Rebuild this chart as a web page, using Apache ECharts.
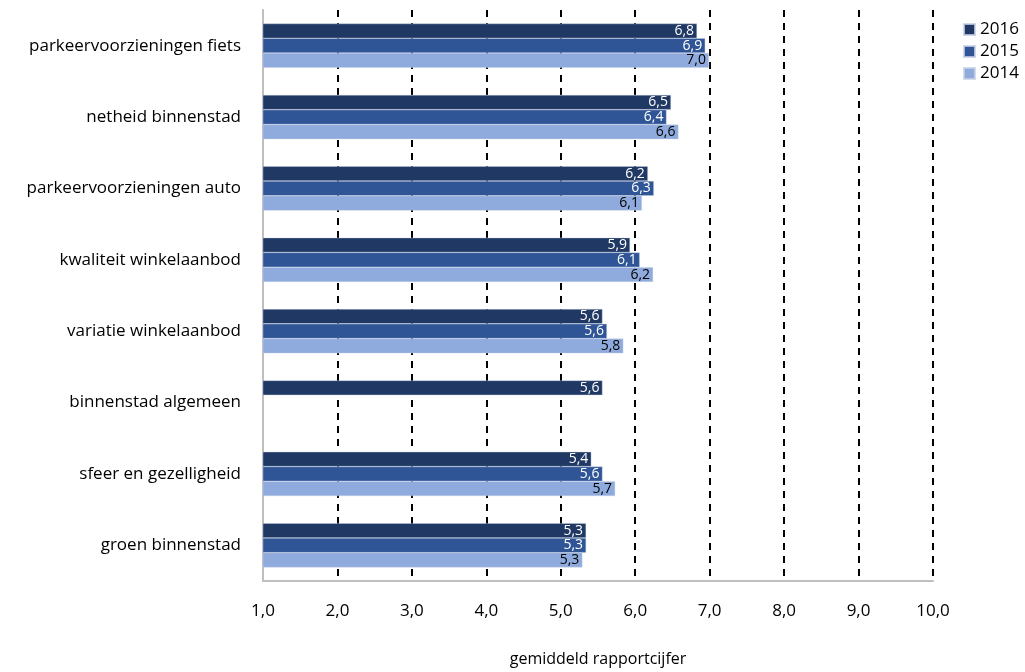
<!DOCTYPE html>
<html><head><meta charset="utf-8">
<script src="https://cdn.jsdelivr.net/npm/echarts@6/dist/echarts.min.js"></script>
<style>html,body{margin:0;padding:0;background:#fff}#c{width:1025px;height:672px}</style>
</head><body><div id="c"></div>
<script>
const categories = ['parkeervoorzieningen fiets','netheid binnenstad','parkeervoorzieningen auto','kwaliteit winkelaanbod','variatie winkelaanbod','binnenstad algemeen','sfeer en gezelligheid','groen binnenstad'];
const seriesNames = ['2016','2015','2014'];
const v2016 = [6.83, 6.48, 6.17, 5.93, 5.56, 5.56, 5.41, 5.34];
const v2015 = [6.94, 6.42, 6.25, 6.06, 5.62, null, 5.56, 5.34];
const v2014 = [6.99, 6.58, 6.09, 6.24, 5.84, null, 5.73, 5.29];
const colors = ['#203864', '#2F5597', '#8FAADC'];
const labelColors = ['#ffffff', '#ffffff', '#000000'];
const axisName = 'gemiddeld rapportcijfer';
const font = "'Open Sans', 'Liberation Sans', sans-serif";

const chart = echarts.init(document.getElementById('c'));
const data = [v2016, v2015, v2014];
chart.setOption({
  animation: false,
  textStyle: {fontFamily: font},
  legend: {
    orient: 'vertical', left: 958, top: 16, itemGap: 5,
    itemWidth: 11, itemHeight: 11, icon: 'rect',
    textStyle: {fontSize: 17, color: '#000', fontFamily: font},
    data: seriesNames
  },
  grid: {left: 263, right: 92, top: 10, bottom: 85},
  xAxis: {
    type: 'value', min: 1, max: 10, interval: 1,
    name: axisName, nameLocation: 'middle', nameGap: 70,
    nameTextStyle: {fontSize: 16, color: '#000', fontFamily: font},
    axisLine: {show: true, lineStyle: {color: '#bfbfbf', width: 2}},
    axisTick: {show: false},
    axisLabel: {fontSize: 17, color: '#000', margin: 22, fontFamily: font,
      formatter: v => v.toFixed(1).replace('.', ',')},
    splitLine: {show: true, lineStyle: {color: '#000', width: 2, type: [7, 6]}}
  },
  yAxis: {
    type: 'category', data: categories, inverse: true,
    axisLine: {show: true, lineStyle: {color: '#bfbfbf', width: 2}},
    axisTick: {show: false},
    axisLabel: {fontSize: 17, color: '#000', margin: 22, fontFamily: font}
  },
  series: seriesNames.map((n, i) => ({
    name: n, type: 'bar', data: data[i],
    barGap: '0%', barCategoryGap: '38%',
    itemStyle: {color: colors[i], borderColor: 'rgba(200,210,230,0.8)', borderWidth: 0.5},
    label: {show: true, position: 'insideRight', distance: 3, color: labelColors[i],
      fontSize: 14, fontFamily: font,
      formatter: p => p.value == null ? '' : p.value.toFixed(1).replace('.', ',')}
  }))
});
</script>
</body></html>
